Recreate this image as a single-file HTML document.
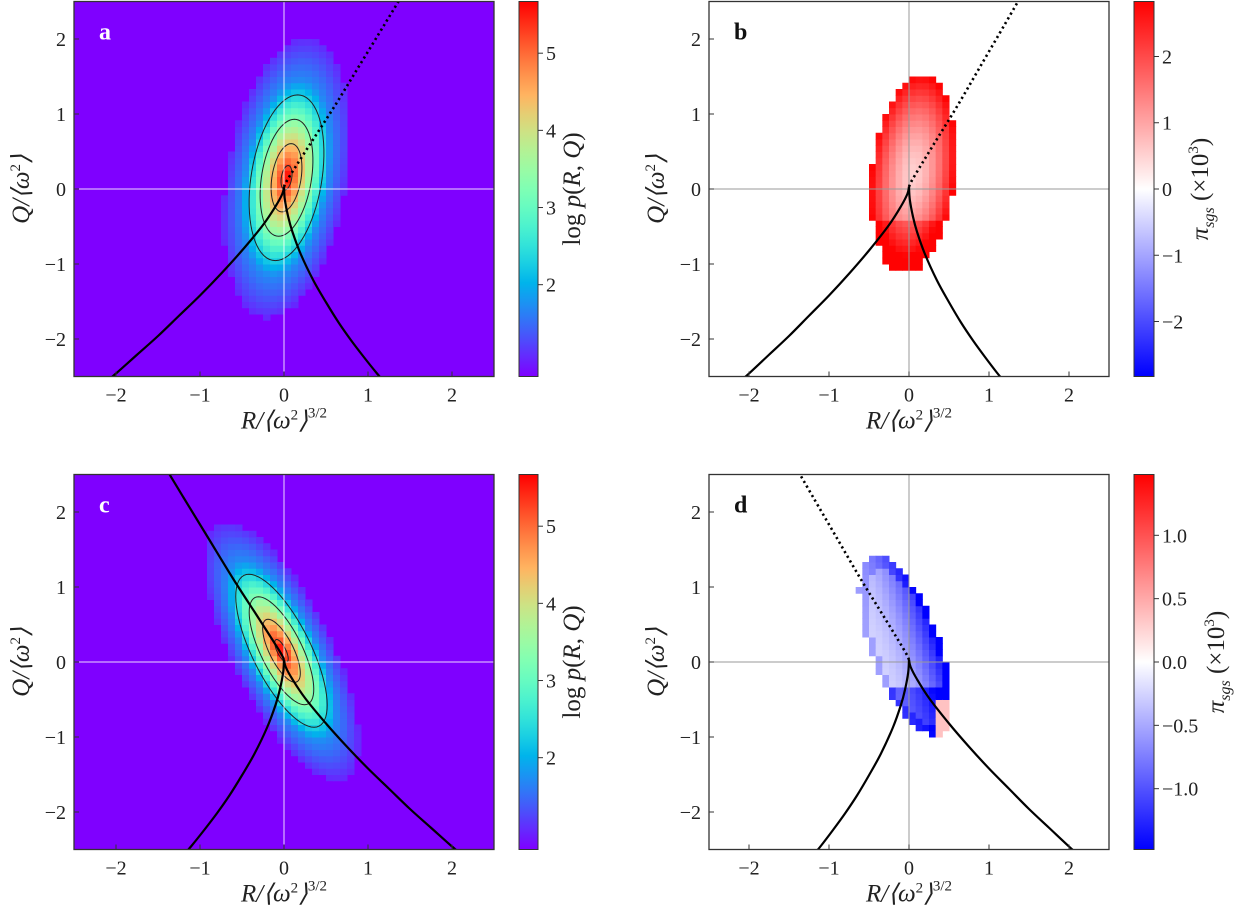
<!DOCTYPE html>
<html><head><meta charset="utf-8"><style>
body{margin:0;background:#fff}
svg text{font-family:"Liberation Serif",serif;fill:#222}
</style></head><body>
<svg id="fig" width="1235" height="917" viewBox="0 0 1235 917" xmlns="http://www.w3.org/2000/svg"></svg>
<script>
// ---- data ----
const xTicks=[-2,-1,0,1,2];
const yTicks=[-2,-1,0,1,2];
const cbTicksLog=[2,3,4,5];
const cbTicksB=[-2,-1,0,1,2];
const cbTicksD=[-1.0,-0.5,0.0,0.5,1.0];
const cbTicksDLabels=["\u22121.0","\u22120.5","0.0","0.5","1.0"];
// density model params: [centerR, centerQ, shear, widthR, widthQ, peak]
const densA=[0.03,0.15,0.12,0.5,1.3,5.7];
const densC=[-0.03,0.15,-0.38,0.45,1.2,5.7];
// pi_sgs masks/params: [centerR, centerQ, shear, widthR, widthQ]
const maskB=[0.05,0.2,0.08,0.52,1.32];
const maskD=[-0.05,0.22,-0.3,0.45,1.2];
const contourLevels=[2.3,3.3,4.3,5.2];
// curves (R,Q)
const curveLeftA_R=[0,-0.02,-0.1,-0.25,-0.5,-0.75,-1.0,-1.25,-1.5,-1.75,-2.0,-2.15];
const curveLeftA_Q=[0.03,-0.065,-0.23,-0.48,-0.82,-1.13,-1.42,-1.69,-1.96,-2.21,-2.46,-2.6];
const curveRightA_R=[0,0.01,0.05,0.1,0.2,0.35,0.5,0.65,0.8,0.95,1.1,1.2];
const curveRightA_Q=[0.03,-0.14,-0.37,-0.57,-0.87,-1.22,-1.51,-1.78,-2.02,-2.24,-2.45,-2.58];
const dottedA_R=[0,0.05,0.3,0.6,0.9,1.2,1.4];
const dottedA_Q=[0.03,0.14,0.58,1.1,1.65,2.2,2.57];

const S=document.getElementById('fig');const NS='http://www.w3.org/2000/svg';
function mk(t,a,p){const e=document.createElementNS(NS,t);for(const k in a)e.setAttribute(k,a[k]);(p||S).appendChild(e);return e;}
function rainbow(x){x=Math.max(0,Math.min(1,x));const r=Math.min(1,Math.abs(2*x-0.5)),g=Math.sin(Math.PI*x),b=Math.cos(Math.PI*x/2);return `rgb(${r*255|0},${g*255|0},${Math.max(0,b)*255|0})`;}
function bwr(x){x=Math.max(0,Math.min(1,x));let r,g,b;if(x<0.5){r=g=2*x;b=1}else{r=1;g=b=2-2*x}return `rgb(${r*255|0},${g*255|0},${b*255|0})`;}
function uv(p,R,Q){const v=Q-p[1];const u=R-p[0]-p[2]*v;return [u/p[3],v/p[4]];}
function dist(p,R,Q){const [a,b]=uv(p,R,Q);return Math.sqrt(a*a+b*b);}
function smoothPath(X,Y,Rs,Qs,m){const P=Rs.map((r,k)=>[X(m*r),Y(Qs[k])]);let d=`M${P[0][0]},${P[0][1]}`;
 for(let i=0;i<P.length-1;i++){const p0=P[Math.max(0,i-1)],p1=P[i],p2=P[i+1],p3=P[Math.min(P.length-1,i+2)];
  const c1=[p1[0]+(p2[0]-p0[0])/6,p1[1]+(p2[1]-p0[1])/6],c2=[p2[0]-(p3[0]-p1[0])/6,p2[1]-(p3[1]-p1[1])/6];
  d+=` C${c1[0]},${c1[1]} ${c2[0]},${c2[1]} ${p2[0]},${p2[1]}`;}return d;}

function panel(P){
 const g=mk('g',{});
 const X=R=>P.x0c+P.sx*R, Y=Q=>P.y0c-75*Q;
 const L=X(-2.5),Rt=X(2.5),T=Y(2.5),B=Y(-2.5);
 const clipId='clip'+P.id;const cp=mk('clipPath',{id:clipId},g);mk('rect',{x:L,y:T,width:Rt-L,height:B-T},cp);
 const plot=mk('g',{'clip-path':`url(#${clipId})`},g);
 
 const n=60,dr=5/n;
 if(P.type==='dens'){
  mk('rect',{x:L,y:T,width:Rt-L,height:B-T,fill:rainbow(0)},plot);
  for(let i=0;i<n;i++)for(let j=0;j<n;j++){const R=-2.5+(i+0.5)*dr,Q=-2.5+(j+0.5)*dr;
   const d=dist(P.p,R,Q);let v=d<1?P.p[5]-4.0*d:(P.p[5]-4.0)-1.5*(d-1);if(v<1.05)continue;
   const c=mk('rect',{x:X(R-dr/2),y:Y(Q+dr/2),width:P.sx*dr+0.5,height:75*dr+0.5,fill:rainbow((v-0.81)/(5.67-0.81))},plot);
   }
  contourLevels.forEach(lv=>{const dd=(P.p[5]-lv)/4.0;let pts=[];for(let k=0;k<=72;k++){const a=k/72*2*Math.PI;const v=Math.sin(a)*dd*P.p[4],u=Math.cos(a)*dd*P.p[3];pts.push(X(P.p[0]+u+P.p[2]*v)+','+Y(P.p[1]+v));}
   const pl=mk('polyline',{points:pts.join(' '),fill:'none',stroke:'#222','stroke-width':1},plot);});
 }else{
  for(let i=0;i<n;i++)for(let j=0;j<n;j++){const R=-2.5+(i+0.5)*dr,Q=-2.5+(j+0.5)*dr;
   const d=dist(P.p,R,Q);if(d>1)continue;let val;
   if(P.type==='piB'){val=0.5+2.3*Math.pow(d,1.6)+(Q<-0.4?0.6:0);val=Math.min(val,2.8);val=(val+2.83)/5.66;}
   else{const [a]=uv(P.p,R,Q);const t=Math.max(0,Math.min(1,(a+1)/2));val=-(0.25+1.25*t*t)-(Q<-0.3?0.6:0)-(d>0.85?0.3:0);
     if(R>0.33&&Q<-0.5&&Q>-1.0)val=0.35;val=(val+1.48)/2.96;}
   const c=mk('rect',{x:X(R-dr/2),y:Y(Q+dr/2),width:P.sx*dr+0.5,height:75*dr+0.5,fill:bwr(val)},plot);
   }
 }
 const lc=P.type==='dens'?'rgba(255,255,255,0.85)':'#999';
 mk('line',{x1:X(0),x2:X(0),y1:T,y2:B,stroke:lc,'stroke-width':1},plot);
 mk('line',{x1:L,x2:Rt,y1:Y(0),y2:Y(0),stroke:lc,'stroke-width':1},plot);
 const m=P.mirror?-1:1;
 function line(Rs,Qs,dash,name){const e=mk('path',{d:smoothPath(X,Y,Rs,Qs,m),fill:'none',stroke:'#000','stroke-width':dash?2.6:2.2,'stroke-dasharray':dash?'2.2 3.2':'none'},plot);}
 line(curveLeftA_R,curveLeftA_Q,false,'vieillefosse-branch-left');
 line(curveRightA_R,curveRightA_Q,false,'vieillefosse-branch-right');
 line(dottedA_R,dottedA_Q,P.solidUp?false:true,'reference-line');
 mk('rect',{x:L,y:T,width:Rt-L,height:B-T,fill:'none',stroke:'#333','stroke-width':1.3},g);
 xTicks.forEach(t=>{mk('line',{x1:X(t),x2:X(t),y1:B,y2:B-5,stroke:'#333'},g);const tx=mk('text',{x:X(t),y:B+25,'font-size':20,'text-anchor':'middle'},g);tx.textContent=(t<0?'\u2212':'')+Math.abs(t);});
 yTicks.forEach(t=>{mk('line',{x1:L,x2:L+5,y1:Y(t),y2:Y(t),stroke:'#333'},g);const tx=mk('text',{x:L-8,y:Y(t)+7,'font-size':20,'text-anchor':'end'},g);tx.textContent=(t<0?'\u2212':'')+Math.abs(t);});
 const xl=mk('text',{x:X(0),y:B+52,'font-size':25,'text-anchor':'middle','font-style':'italic'},g);xl.innerHTML='R/\u27E8\u03C9<tspan font-style="normal" font-size="15" dy="-9">2</tspan><tspan dy="9">\u27E9</tspan><tspan font-style="normal" font-size="15" dy="-11">3/2</tspan>';
 
 const yx=L-45,yy=Y(0);const yl=mk('text',{x:yx,y:yy,'font-size':25,'text-anchor':'middle','font-style':'italic',transform:`rotate(-90 ${yx} ${yy})`},g);yl.innerHTML='Q/\u27E8\u03C9<tspan font-style="normal" font-size="15" dy="-9">2</tspan><tspan dy="9">\u27E9</tspan>';
 
 const pl=mk('text',{x:L+25,y:T+38,'font-size':24,'font-weight':'bold'},g);pl.textContent=P.letter;pl.style.fill=P.type==='dens'?'#fff':'#111';
 
 // colorbar
 const cb=mk('g',{},g);
 const gid='grad'+P.id;const gr=mk('linearGradient',{id:gid,x1:0,y1:1,x2:0,y2:0},cb);
 for(let k=0;k<=20;k++)mk('stop',{offset:k/20,'stop-color':P.type==='dens'?rainbow(k/20):bwr(k/20)},gr);
 mk('rect',{x:P.cbx,y:T,width:P.cbw,height:B-T,fill:`url(#${gid})`,stroke:'#333','stroke-width':1},cb);
 const cy=v=>B-(v-P.cmin)/(P.cmax-P.cmin)*(B-T);
 P.cbt.forEach((t,k)=>{mk('line',{x1:P.cbx+P.cbw,x2:P.cbx+P.cbw+5,y1:cy(t),y2:cy(t),stroke:'#333'},cb);const tx=mk('text',{x:P.cbx+P.cbw+8,y:cy(t)+7,'font-size':20},cb);tx.textContent=P.cbl?P.cbl[k]:((t<0?'\u2212':'')+Math.abs(t));});
 const cx=P.cbx+P.cbw+P.cbOff;const ct=mk('text',{x:cx,y:yy,'font-size':25,'text-anchor':'middle',transform:`rotate(-90 ${cx} ${yy})`},cb);
 ct.innerHTML=P.type==='dens'?'log <tspan font-style="italic">p</tspan>(<tspan font-style="italic">R</tspan>, <tspan font-style="italic">Q</tspan>)':'<tspan font-style="italic">\u03C0</tspan><tspan font-style="italic" font-size="16" dy="6">sgs</tspan><tspan dy="-6"> (\u00D710</tspan><tspan font-size="15" dy="-10">3</tspan><tspan dy="10">)</tspan>';
 
}
panel({id:'a',name:'panel-a',letter:'a',type:'dens',p:densA,x0c:284,sx:84,y0c:189,cbx:519,cbw:19,cmin:0.81,cmax:5.67,cbt:cbTicksLog,cbOff:42});
panel({id:'b',name:'panel-b',letter:'b',type:'piB',p:maskB,x0c:909,sx:80,y0c:189,cbx:1134,cbw:20,cmin:-2.83,cmax:2.83,cbt:cbTicksB,cbOff:54});
panel({id:'c',name:'panel-c',letter:'c',type:'dens',p:densC,x0c:284,sx:84,y0c:662,cbx:519,cbw:19,cmin:0.81,cmax:5.67,cbt:cbTicksLog,cbOff:42,mirror:true,solidUp:true});
panel({id:'d',name:'panel-d',letter:'d',type:'piD',p:maskD,x0c:909,sx:80,y0c:662,cbx:1134,cbw:20,cmin:-1.48,cmax:1.48,cbt:cbTicksD,cbl:cbTicksDLabels,cbOff:70,mirror:true});
</script>
</body></html>
